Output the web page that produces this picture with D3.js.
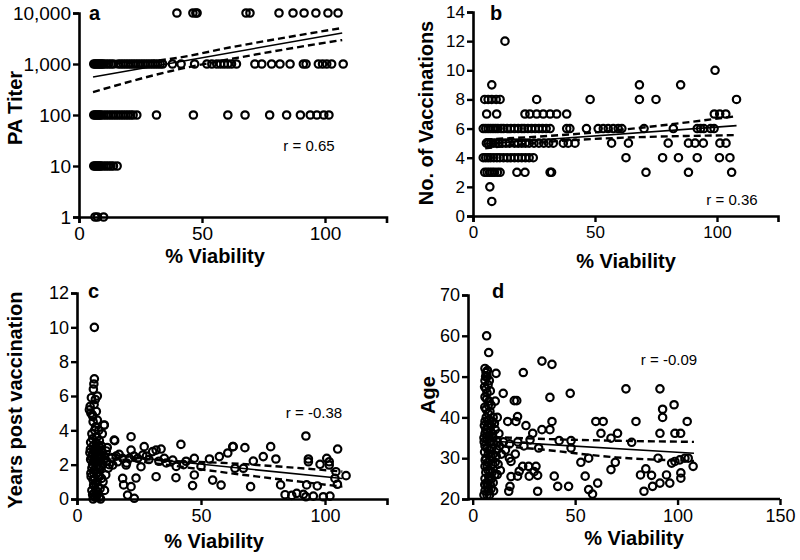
<!DOCTYPE html>
<html><head><meta charset="utf-8">
<script src="https://cdn.jsdelivr.net/npm/d3@7"></script>
<style>
body{margin:0;background:#fff;}
svg{display:block;font-family:"Liberation Sans",Arial,sans-serif;}
</style></head>
<body><svg id="c" width="800" height="560"></svg>
<script>
// ---------- Panel a: PA titer vs % viability (x values per titer level)
const aTiterLevels = [1, 10, 100, 1000, 10000];
const aX1 = [6.5, 7.5, 10];
const aX10 = [6, 6.5, 7, 7.5, 8, 8.5, 9, 10, 11, 12, 13, 14, 15.5];
const aX100 = [6, 6.5, 7, 7.5, 8, 8.5, 9, 10, 11, 12, 13, 14, 15, 16, 17, 18, 19, 20, 21, 22, 23.5,
  31.5, 46.5, 60.5, 67.5, 77.5, 84.4, 90, 94, 96.7, 99.5, 101.6];
const aX1000 = [6, 6.5, 7, 7.5, 8, 8.5, 9, 9.5, 10, 11, 12, 13, 14, 16, 17, 18, 19, 20, 21, 22, 23, 24, 25,
  26, 27, 28, 29, 30, 31, 32, 33, 34, 38, 41.5, 47, 52, 54, 56, 57.5, 59, 60.5, 62, 64, 71.5, 74.3, 78.3,
  81.7, 85.8, 91.2, 92.3, 97.3, 99, 100.7, 102.7, 107.4];
const aX10000 = [39.8, 46.3, 47.5, 48, 67.9, 69.5, 81.3, 87, 91.5, 96.3, 101.2, 105.3];
const aFit = [[5.7, 556], [107, 4060]];
const aUpper = [[5.7, 1000], [20, 1050], [36, 1236], [63, 2185], [107, 5100]];
const aLower = [[5.7, 282], [37.5, 730], [70, 1480], [107, 2960]];

// ---------- Panel b: No. of vaccinations (x values per count)
const bCounts = [1, 2, 3, 4, 5, 6, 7, 8, 9, 10, 12];
const bX1 = [7.7];
const bX2 = [6.9];
const bX3 = [4.8, 5.8, 6.8, 7.8, 8.8, 10, 11.1, 18, 21.3, 31.6, 32.2, 70.9, 88.3, 106];
const bX4 = [4.2, 5.2, 6.2, 7.2, 8.5, 9.8, 11, 12.5, 14, 15.5, 17, 18.5, 20, 21.5, 23, 24.7, 62.7, 77.7, 84.2, 91.9, 101, 105.3];
const bX5 = [5.5, 6.3, 7.3, 8.3, 9.5, 10.5, 12, 13.5, 15, 17, 18.5, 20, 21.5, 23, 25, 27, 29, 31, 32.9, 37, 39, 41.8,
  56.8, 63.7, 80, 88.3, 91, 94.4, 101.2, 103.7];
const bX6 = [4.2, 5.2, 6.2, 7.2, 8.2, 9.2, 10.2, 11.5, 12.5, 14, 15.5, 17, 18.5, 20, 21, 22.5, 24, 25.5, 27,
  28.5, 30, 31.6, 38.4, 39.7, 46.5, 51.3, 53.4, 55.4, 57.5, 59.5, 61, 70.1, 82.1, 91.9, 93.3, 94.6, 97.4, 98.8];
const bX7 = [5.6, 9.7, 21.3, 23.3, 26.1, 28.8, 31.6, 34.3, 38.4, 98.9, 101.1, 103.6];
const bX8 = [4.8, 6.2, 7.7, 9.5, 11.1, 26.1, 48, 68.2, 75, 108];
const bX9 = [7.7, 68.2, 85.1];
const bX10 = [99.2];
const bX12 = [13.1];
const bFit = [[5, 4.95], [108, 6.2]];
const bUpper = [[5, 5.25], [40, 5.6], [108, 6.85]];
const bLower = [[5, 4.65], [40, 5.2], [108, 5.55]];

// ---------- Panel c: years post vaccination [viability, years]
const cPoints = [
  [5.3,5.4],[5,5.2],[5.6,5.0],[6.6,6.4],[8.2,6.0],[7,7.0],[7,10.0],[6.5,4.5],[7.5,4.2],[6,3.8],[8,3.6],
  [9,3.4],[5.5,3.3],[6.5,3.1],[7.5,3.0],[8.5,2.9],[10,2.8],[5.2,2.7],[6.2,2.6],[7.2,2.5],[8.2,2.4],[9.2,2.35],
  [5.5,2.3],[6.5,2.2],[7.5,2.1],[8.5,2.0],[9.5,1.9],[6,1.8],[7,1.7],[8,1.5],[9,1.3],[6.5,1.1],[7.5,0.9],
  [8.5,0.7],[6,0.5],[7,0.35],[8,0.2],[9,0.1],[9.5,0],[6.5,0],[10.9,4.3],[11.6,1.4],[11.1,0.5],[12.2,3.0],
  [15.2,3.4],[11,2.5],[12,2.2],[13,2.0],[14,2.4],[10.5,1.0],[5.8,5.9],[6.2,4.9],[8.8,4.0],[9.8,3.1],[10.4,2.0],
  [6.8,6.7],[7.4,5.8],[6.9,5.5],[7.8,5.1],[6.4,4.8],[8.2,4.6],[7.1,4.0],[6.3,3.5],[7.7,3.3],[8.7,3.1],
  [6.9,2.8],[7.9,2.7],[9.6,2.6],[5.9,2.45],[7.4,2.3],[8.9,2.2],[6.3,2.0],[7.8,1.9],[9.1,1.75],[6.8,1.5],
  [8.6,1.4],[5.7,1.3],[7.2,1.2],[8.1,1.0],[6.7,0.8],[9.3,0.6],[7.6,0.5],[6.3,0.25],[8.4,0.4],[7.3,0.1],
  [5.4,2.9],[5.6,1.5],[9.9,1.2],[10.2,3.8],[11.8,2.8],[12.6,1.8],[10.8,2.3],
  [11,4.31],[15,3.43],[21.8,3.63],[21.8,2.85],[27.1,3.05],[33.9,2.91],[41.9,3.18],[18.4,1.2],[23.8,1.22],
  [18.8,0.82],[21.8,0.72],[20.4,0.23],[23.1,0.04],[31.9,1.3],[39.9,1.24],[47.3,1.4],[46.6,0.78],[54.7,1.1],
  [58.1,0.81],[62.8,3.05],[60.8,2.68],[57.4,2.47],[53.4,2.33],[47.3,2.37],[38.6,2.27],[35.2,2.37],[30.5,2.76],
  [31.9,2.85],[26.5,2.56],[24.5,2.37],[21.1,2.37],[18.4,2.37],[16.4,2.17],[25.8,1.88],[19.8,1.98],[14.4,1.98],
  [92.3,3.67],[105.1,2.91],[78.1,3.05],[67.7,2.99],[63,3.05],[75.1,2.47],[80.2,2.33],[71.1,2.21],[93.3,2.33],
  [93.3,2.17],[98,2.02],[100.7,2.37],[101.7,2.17],[101.7,1.98],[104.4,1.59],[108.5,1.36],[105,0.86],[63.7,1.79],
  [67.1,1.79],[70,0.72],[82.1,0.82],[83.9,0.25],[86.6,0.21],[88.6,0.33],[91.3,0.27],[92.6,0.82],[92.3,0.13],
  [95.3,0.17],[96.9,0.76],[99.3,0.13],[102,0.17],[104,1.2],[28,2.5],[33,2.2],[43,2.0],[40,1.9],
  [17,2.6],[20,2.1],[23,2.5],[29,2.3],[36,2.1],[44,2.2],[50,1.9],[15.8,2.5]
];
const cFit = [[5, 2.69], [107, 1.19]];
const cUpper = [[5, 2.85], [30, 2.3], [62, 2.08], [107, 1.6]];
const cLower = [[5, 2.5], [30, 2.1], [62, 1.5], [107, 0.72]];

// ---------- Panel d: age [viability, age]
const dPoints = [
  [6,52],[6.5,51],[7,50],[6,49],[7.5,48],[6.5,47],[7,46],[6,45],[8,44],[9,43],[6.5,42],[7.5,41],[10,40],
  [6,39],[8,38.5],[9,38],[7,37],[11,37],[6,36],[8,35.5],[10,35],[5.5,35],[7,34.5],[9,34],[12,34],[6,33],
  [8,32],[10,31],[6.5,30],[8.5,29.5],[11,29],[6,28],[7.5,27],[9.5,26.5],[12,26],[6,25],[8,24.5],[10,24],
  [7,23],[9,22.5],[6,22],[7,21],[5.5,21],[13,33],[14,31],[11,44],[12,40],
  [7.2,51.5],[6.3,50],[8.1,49],[5.8,47.5],[8.6,46.5],[6.8,44.5],[7.6,43],[5.9,42.5],[8.4,41.5],[6.6,40],
  [7.9,39.5],[9.6,39],[5.7,38],[7.3,38],[10.6,38.5],[6.4,37],[8.8,36.5],[9.7,36],[7.1,35.5],[5.6,34],
  [8.3,34],[10.4,33.5],[6.9,32.5],[9.3,32.5],[11.8,32],[5.8,31.5],[7.6,31],[8.9,30.5],[6.1,29.5],[7.4,29],
  [9.8,28.5],[12.4,28.5],[7.1,28],[8.4,27],[6.4,26.5],[10.8,26],[7.8,25.5],[9.2,25],[6.8,24],[8.6,23.5],
  [5.9,23.5],[7.7,22],[10.2,22],[8.2,21],[11.5,30.5],[12.8,36],[13.5,27],
  [6.8,60],[7.8,55.9],[11.4,50.8],
  [24.7,51],[33.8,53.8],[38.7,53],[14.9,45.9],[20.3,44.1],[21.5,44.1],[37.7,44.9],[47.6,45.9],[21.9,40.2],
  [17.1,39],[21.1,39],[26,38],[38.7,39],[33.8,37],[37.7,37],[29.3,36.1],[42.2,34.3],[48,34.3],[48,32.5],
  [32.2,32.5],[60.1,39],[63.7,39],[62.6,36.1],[67.5,34.9],[70.7,36.1],[74.8,47],[17.9,30],[20.8,31],
  [18.7,29.2],[24.4,28],[27.3,28],[30.9,28],[22.7,26.8],[30,26.7],[31.7,25.8],[27.6,25.6],[21.9,25.6],
  [18.7,25.5],[18.2,23.1],[17.6,21.9],[31.7,21.9],[39.8,25.6],[41.5,23.1],[46.8,23.1],[52.8,29],[56.6,30],
  [54.9,25.6],[56.6,22.3],[58.5,21.2],[61,23.9],[67.5,27.2],[69.6,29],[91.4,47],[98.3,43.1],[92.7,42],
  [92.7,40],[79.7,39],[104.7,39],[91.4,36.1],[98.7,36.1],[101.5,36.1],[77.6,33.9],[90.5,30],[97.1,28.8],
  [98.7,29.2],[101.1,29.6],[103.6,30],[105.2,30],[107.6,28],[101.6,26.4],[101.6,25.1],[84.5,27.4],[81.9,25.9],
  [87.3,25.8],[94.6,25.9],[96.2,23.9],[91.4,23.9],[87.8,23.1],[83.6,21.9],
  [15,34],[18,33.5],[22,34],[25,33],[28,34.5],[16,32]
];
const dFit = [[5, 34.3], [108, 31.2]];
const dUpper = [[5, 35.3], [30, 34.8], [108, 34.0]];
const dLower = [[5, 33.2], [30, 32.3], [70, 30.2], [108, 29.3]];

const svg = d3.select("#c");
const flat = (levels, lists) => levels.flatMap((v, i) => lists[i].map(x => [x, v]));

function panel(o) {
  const g = svg.append("g");
  const x = o.x, y = o.y;
  const line = d3.line().x(d => x(d[0])).y(d => y(d[1])).curve(d3.curveMonotoneX);
  g.append("g").selectAll("circle").data(o.points).join("circle")
    .attr("cx", d => x(d[0])).attr("cy", d => y(d[1])).attr("r", 3.7)
    .attr("fill", "none").attr("stroke", "#000").attr("stroke-width", 2.2);
  g.append("path").attr("d", line(o.fit)).attr("fill", "none").attr("stroke", "#000").attr("stroke-width", 1.6);
  [o.upper, o.lower].forEach(b => g.append("path").attr("d", line(b)).attr("fill", "none")
    .attr("stroke", "#000").attr("stroke-width", 2.4).attr("stroke-dasharray", "7,4"));
  const xa = g.append("g").attr("transform", `translate(0,${o.xAxisY})`)
    .call(d3.axisBottom(x).tickValues(o.xTicks).tickFormat(d3.format("d")).tickSizeOuter(0).tickSize(6).tickPadding(4));
  const ya = g.append("g").attr("transform", `translate(${o.yAxisX},0)`)
    .call(d3.axisLeft(y).tickValues(o.yTicks).tickFormat(o.yFmt).tickSizeOuter(0).tickSize(6).tickPadding(2));
  [xa, ya].forEach(a => {
    a.select(".domain").attr("stroke-width", 2.6);
    a.selectAll(".tick line").attr("stroke-width", 2.4);
    a.selectAll("text").attr("font-size", o.tickFs).attr("fill", "#000")
      .attr("font-family", "'Liberation Sans',Arial,sans-serif");
  });
  if (o.xDomainFrom !== undefined) xa.select(".domain").attr("d", `M${o.xDomainFrom},0H${x.range()[1]}`);
  g.append("text").attr("x", o.xl[0]).attr("y", o.xl[1]).attr("text-anchor", "middle")
    .attr("font-weight", "bold").attr("font-size", 20).text("% Viability");
  g.append("text").attr("transform", `translate(${o.yl[0]},${o.yl[1]}) rotate(-90)`).attr("text-anchor", "middle")
    .attr("font-weight", "bold").attr("font-size", 20).text(o.yLabel);
  g.append("text").attr("x", o.letter[0]).attr("y", o.letter[1]).attr("font-weight", "bold")
    .attr("font-size", 20).text(o.letterText);
  g.append("text").attr("x", o.r[0]).attr("y", o.r[1]).attr("text-anchor", "middle")
    .attr("font-size", 15).text(o.rText);
}

panel({
  x: d3.scaleLinear().domain([0, 125]).range([79, 386.5]),
  y: d3.scaleLog().domain([1, 10000]).range([217, 13]),
  points: flat(aTiterLevels, [aX1, aX10, aX100, aX1000, aX10000]),
  fit: aFit, upper: aUpper, lower: aLower,
  xAxisY: 217, yAxisX: 79, xTicks: [0, 50, 100], yTicks: aTiterLevels, yFmt: d3.format(","),
  tickFs: 19, xl: [215, 263], yl: [22, 108], yLabel: "PA Titer",
  letter: [89, 20], letterText: "a", r: [309, 151], rText: "r = 0.65"
});
panel({
  x: d3.scaleLinear().domain([0, 125]).range([473, 778]),
  y: d3.scaleLinear().domain([0, 14]).range([216, 12]),
  points: flat(bCounts, [bX1, bX2, bX3, bX4, bX5, bX6, bX7, bX8, bX9, bX10, bX12]),
  fit: bFit, upper: bUpper, lower: bLower,
  xAxisY: 216, yAxisX: 473, xTicks: [0, 50, 100], yTicks: [0, 2, 4, 6, 8, 10, 12, 14], yFmt: d3.format("d"),
  tickFs: 17, xl: [626, 268], yl: [433, 113], yLabel: "No. of Vaccinations",
  letter: [490, 20], letterText: "b", r: [732, 205], rText: "r = 0.36"
});
panel({
  x: d3.scaleLinear().domain([0, 125]).range([77, 387]),
  y: d3.scaleLinear().domain([0, 12]).range([499, 293]),
  points: cPoints, fit: cFit, upper: cUpper, lower: cLower,
  xAxisY: 499, yAxisX: 77, xTicks: [0, 50, 100], yTicks: [0, 2, 4, 6, 8, 10, 12], yFmt: d3.format("d"),
  tickFs: 18, xl: [214, 548], yl: [22, 400], yLabel: "Years post vaccination",
  letter: [88, 298], letterText: "c", r: [314, 418], rText: "r = -0.38"
});
panel({
  x: d3.scaleLinear().domain([0, 150]).range([472.7, 780]),
  y: d3.scaleLinear().domain([20, 70]).range([499, 295]),
  points: dPoints, fit: dFit, upper: dUpper, lower: dLower,
  xAxisY: 499, yAxisX: 468, xDomainFrom: 468, xTicks: [0, 50, 100, 150], yTicks: [20, 30, 40, 50, 60, 70], yFmt: d3.format("d"),
  tickFs: 18, xl: [634, 545], yl: [435, 395], yLabel: "Age",
  letter: [492, 298], letterText: "d", r: [669, 365], rText: "r = -0.09"
});
</script></body></html>
